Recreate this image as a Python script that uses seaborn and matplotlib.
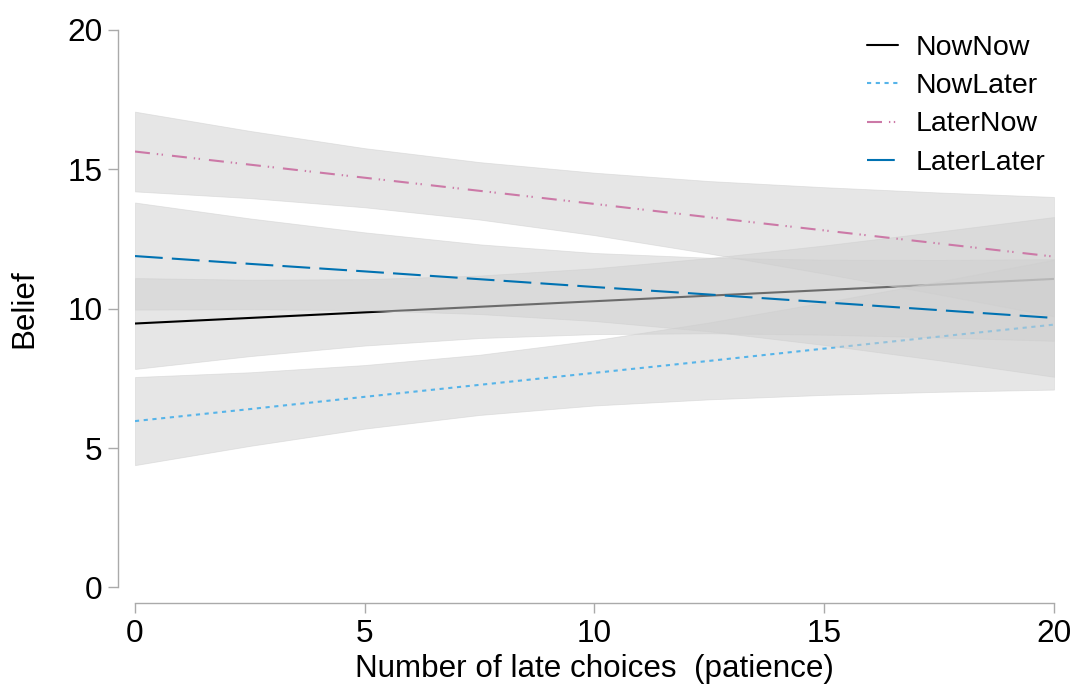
import matplotlib
matplotlib.use("Agg")
import matplotlib.pyplot as plt
import numpy as np
import pandas as pd
import seaborn as sns

# values at patience = 0, 2.5, ..., 20
patience = [0, 2.5, 5, 7.5, 10, 12.5, 15, 17.5, 20]
groups = ["NowNow", "NowLater", "LaterNow", "LaterLater"]

nownow_fit = [9.47, 9.67, 9.87, 10.07, 10.27, 10.47, 10.67, 10.87, 11.07]
nownow_lo = [7.84, 8.30, 8.68, 8.95, 9.09, 9.12, 9.07, 8.97, 8.85]
nownow_hi = [11.10, 11.04, 11.06, 11.19, 11.45, 11.82, 12.27, 12.77, 13.29]

nowlater_fit = [5.97, 6.40, 6.84, 7.27, 7.70, 8.13, 8.57, 9.00, 9.43]
nowlater_lo = [4.39, 5.08, 5.70, 6.19, 6.53, 6.75, 6.91, 7.02, 7.10]
nowlater_hi = [7.55, 7.72, 7.98, 8.35, 8.87, 9.51, 10.23, 10.98, 11.76]

laternow_fit = [15.64, 15.17, 14.70, 14.23, 13.76, 13.28, 12.81, 12.34, 11.87]
laternow_lo = [14.21, 13.97, 13.64, 13.20, 12.64, 11.98, 11.26, 10.51, 9.73]
laternow_hi = [17.07, 16.38, 15.76, 15.26, 14.88, 14.58, 14.36, 14.17, 14.01]

laterlater_fit = [11.89, 11.61, 11.34, 11.06, 10.78, 10.51, 10.23, 9.95, 9.67]
laterlater_lo = [9.97, 9.98, 9.95, 9.81, 9.56, 9.19, 8.70, 8.15, 7.56]
laterlater_hi = [13.81, 13.24, 12.74, 12.31, 12.00, 11.83, 11.76, 11.75, 11.78]

fits = [nownow_fit, nowlater_fit, laternow_fit, laterlater_fit]
lows = [nownow_lo, nowlater_lo, laternow_lo, laterlater_lo]
highs = [nownow_hi, nowlater_hi, laternow_hi, laterlater_hi]

df = pd.concat([pd.DataFrame({"patience": patience, "belief": f, "lo": lo, "hi": hi, "group": g})
                for g, f, lo, hi in zip(groups, fits, lows, highs)], ignore_index=True)

colors = {"NowNow": "#000000", "NowLater": "#56B4E9", "LaterNow": "#CC79A7", "LaterLater": "#0072B2"}
styles = {"NowNow": "-",
          "NowLater": (0, (3.0, 3.3)),
          "LaterNow": (0, (10.8, 5.0, 1.0, 2.5, 1.0, 6.5)),
          "LaterLater": (0, (20.0, 6.6))}

sns.set_theme(style="ticks")
plt.rcParams["font.family"] = ["Liberation Sans", "DejaVu Sans"]
plt.rcParams["lines.scale_dashes"] = False
plt.rcParams["text.color"] = "black"
plt.rcParams["axes.labelcolor"] = "black"

fig = plt.figure(figsize=(10.79, 6.96), dpi=100)
ax = fig.add_axes([0.1251, 0.1559, 0.8517, 0.801])

# band then line for each group, so later bands wash over earlier lines
for i, g in enumerate(groups):
    d = df.query("group == @g")
    ax.fill_between(d["patience"], d["lo"], d["hi"], facecolor="#cfcfcf", alpha=0.52,
                    edgecolor="#cfcfcf", linewidth=0.6, zorder=2 * i + 1)
    sns.lineplot(data=d, x="patience", y="belief", color=colors[g], linestyle=styles[g],
                 linewidth=1.5, label=g, ax=ax, zorder=2 * i + 2)

ax.set_xlim(0, 20)
ax.set_ylim(0, 20)
ax.set_xticks([0, 5, 10, 15, 20])
ax.set_yticks([0, 5, 10, 15, 20])
for side in ["top", "right"]:
    ax.spines[side].set_visible(False)
ax.spines["left"].set_position(("outward", 12.2))
ax.spines["bottom"].set_position(("outward", 11.2))
ax.spines["left"].set_bounds(0, 20)
ax.spines["bottom"].set_bounds(0, 20)
for side in ["left", "bottom"]:
    ax.spines[side].set_color("#aaaaaa")
    ax.spines[side].set_linewidth(1.0)
ax.tick_params(length=7.2, width=1.0, color="#aaaaaa", labelcolor="black", labelsize=22.8, pad=4)

ax.set_xlabel("Number of late choices  (patience)", fontsize=22.6, color="black", labelpad=4)
ax.set_ylabel("Belief", fontsize=22.6, color="black", labelpad=20)

leg = ax.legend(loc="upper left", bbox_to_anchor=(867 / 1079, 1 - 35 / 696), bbox_transform=fig.transFigure,
                frameon=False, fontsize=20.5, handlelength=1.1, handletextpad=0.6, labelspacing=0.43,
                borderpad=0, borderaxespad=0)
for t in leg.get_texts():
    t.set_color("black")

fig.savefig("out.png", dpi=100)
